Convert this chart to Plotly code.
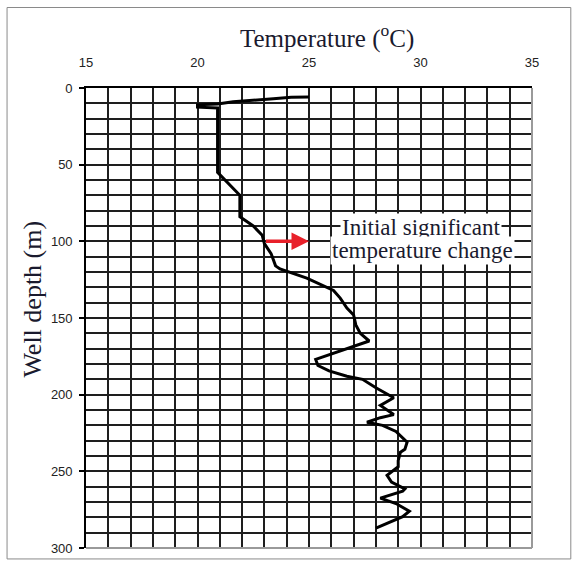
import plotly.graph_objects as go

# Temperature profile
depth_m = [5.8, 6, 7, 8, 9, 10.5, 11, 12.5, 13, 55, 68, 70, 84, 90, 96, 101.5, 108, 116, 118,
           120, 124, 132, 137, 143.5, 148, 154.5, 160, 165, 169.6, 174, 177, 181, 184.5, 188,
           190, 195.5, 198.7, 202, 207, 213, 215, 218, 220, 224, 231, 235.6, 237.5, 243, 247,
           250.5, 252.6, 257, 259, 261.5, 263, 266.7, 267.5, 271, 276, 279.6, 287]
temp_c = [25.0, 24.2, 23.4, 22.4, 21.6, 20.9, 20.0, 20.0, 20.9, 20.9, 21.8, 21.9, 21.9, 22.5,
          22.9, 23.0, 23.3, 23.5, 23.7, 24.1, 24.9, 26.1, 26.4, 26.7, 27.0, 27.1, 27.3, 27.7,
          26.8, 25.9, 25.3, 25.4, 25.9, 26.7, 27.4, 28.0, 28.4, 28.8, 28.2, 28.8, 28.2, 27.6,
          28.3, 28.9, 29.4, 29.3, 29.1, 29.0, 29.0, 28.7, 28.5, 28.7, 29.0, 29.3, 29.2, 28.3,
          28.2, 28.9, 29.5, 29.2, 28.0]

x_ticks = [15, 20, 25, 30, 35]
y_ticks = [0, 50, 100, 150, 200, 250, 300]

arrow_depth = 100
arrow_from = 23
arrow_to = 25
note_lines = ["Initial significant", "temperature change"]
note_x = [30.0, 30.1]
note_y = [90.7, 106.3]

fig = go.Figure()
fig.add_trace(go.Scatter(x=temp_c, y=depth_m, mode="lines",
                         line=dict(color="black", width=3), hoverinfo="skip",
                         showlegend=False))

grid_col = "#1e1e1e"
fig.update_layout(
    width=578, height=568,
    margin=dict(l=86, r=46, t=88, b=17),
    paper_bgcolor="white", plot_bgcolor="white",
    xaxis=dict(side="top", range=[15, 35], tickvals=x_ticks, ticks="",
               showgrid=True, gridcolor=grid_col, gridwidth=1.6,
               minor=dict(dtick=1, showgrid=True, gridcolor=grid_col, gridwidth=1.6),
               showline=True, linecolor="black", linewidth=1.6,
               tickfont=dict(family="Liberation Sans", size=13, color="#222"),
               ticklabelstandoff=14, zeroline=False, fixedrange=True),
    yaxis=dict(range=[300, 0], tickvals=y_ticks, ticks="outside", ticklen=5,
               tickcolor="black", tickwidth=1.5,
               showgrid=True, gridcolor=grid_col, gridwidth=1.6,
               minor=dict(dtick=10, showgrid=True, gridcolor=grid_col, gridwidth=1.6),
               showline=True, linecolor="black", linewidth=1.6,
               tickfont=dict(family="Liberation Sans", size=13, color="#222"),
               ticklabelstandoff=4, zeroline=False, fixedrange=True),
)

# axis titles
fig.add_annotation(text="Temperature (<sup>o</sup>C)", xref="paper", yref="paper",
                   x=0.54, y=1.112, xanchor="center", yanchor="middle", showarrow=False,
                   font=dict(family="Liberation Serif", size=25, color="#1a1a2e"))
fig.add_annotation(text="Well depth (m)", xref="paper", yref="paper",
                   x=-0.119, y=0.542, xanchor="center", yanchor="middle",
                   showarrow=False, textangle=-90,
                   font=dict(family="Liberation Serif", size=26, color="#1a1a2e"))

# note box (two lines, each on its own white background)
for txt, nx, ny in zip(note_lines, note_x, note_y):
    fig.add_annotation(text=txt, xref="x", yref="y", x=nx, y=ny, showarrow=False,
                       xanchor="center", yanchor="middle",
                       bgcolor="white", borderpad=1,
                       font=dict(family="Liberation Serif", size=23, color="#1a1a2e"))

# red arrow
fig.add_annotation(x=arrow_to, y=arrow_depth, ax=arrow_from, ay=arrow_depth,
                   xref="x", yref="y", axref="x", ayref="y", text="",
                   showarrow=True, arrowhead=2, arrowsize=1, arrowwidth=3.5,
                   arrowcolor="#e8202a")

# right/bottom plot edge (gray) and outer frame
fig.add_shape(type="line", xref="paper", yref="paper", x0=1, x1=1, y0=0, y1=1,
              line=dict(color="#9a9a9a", width=2))
fig.add_shape(type="line", xref="paper", yref="paper", x0=0, x1=1, y0=0, y1=0,
              line=dict(color="#9a9a9a", width=2))
fig.add_shape(type="rect", xref="paper", yref="paper", x0=-0.177, x1=1.087,
              y0=-0.0238, y1=1.175, line=dict(color="#8a8a8a", width=1))

fig.write_html("out.html")
